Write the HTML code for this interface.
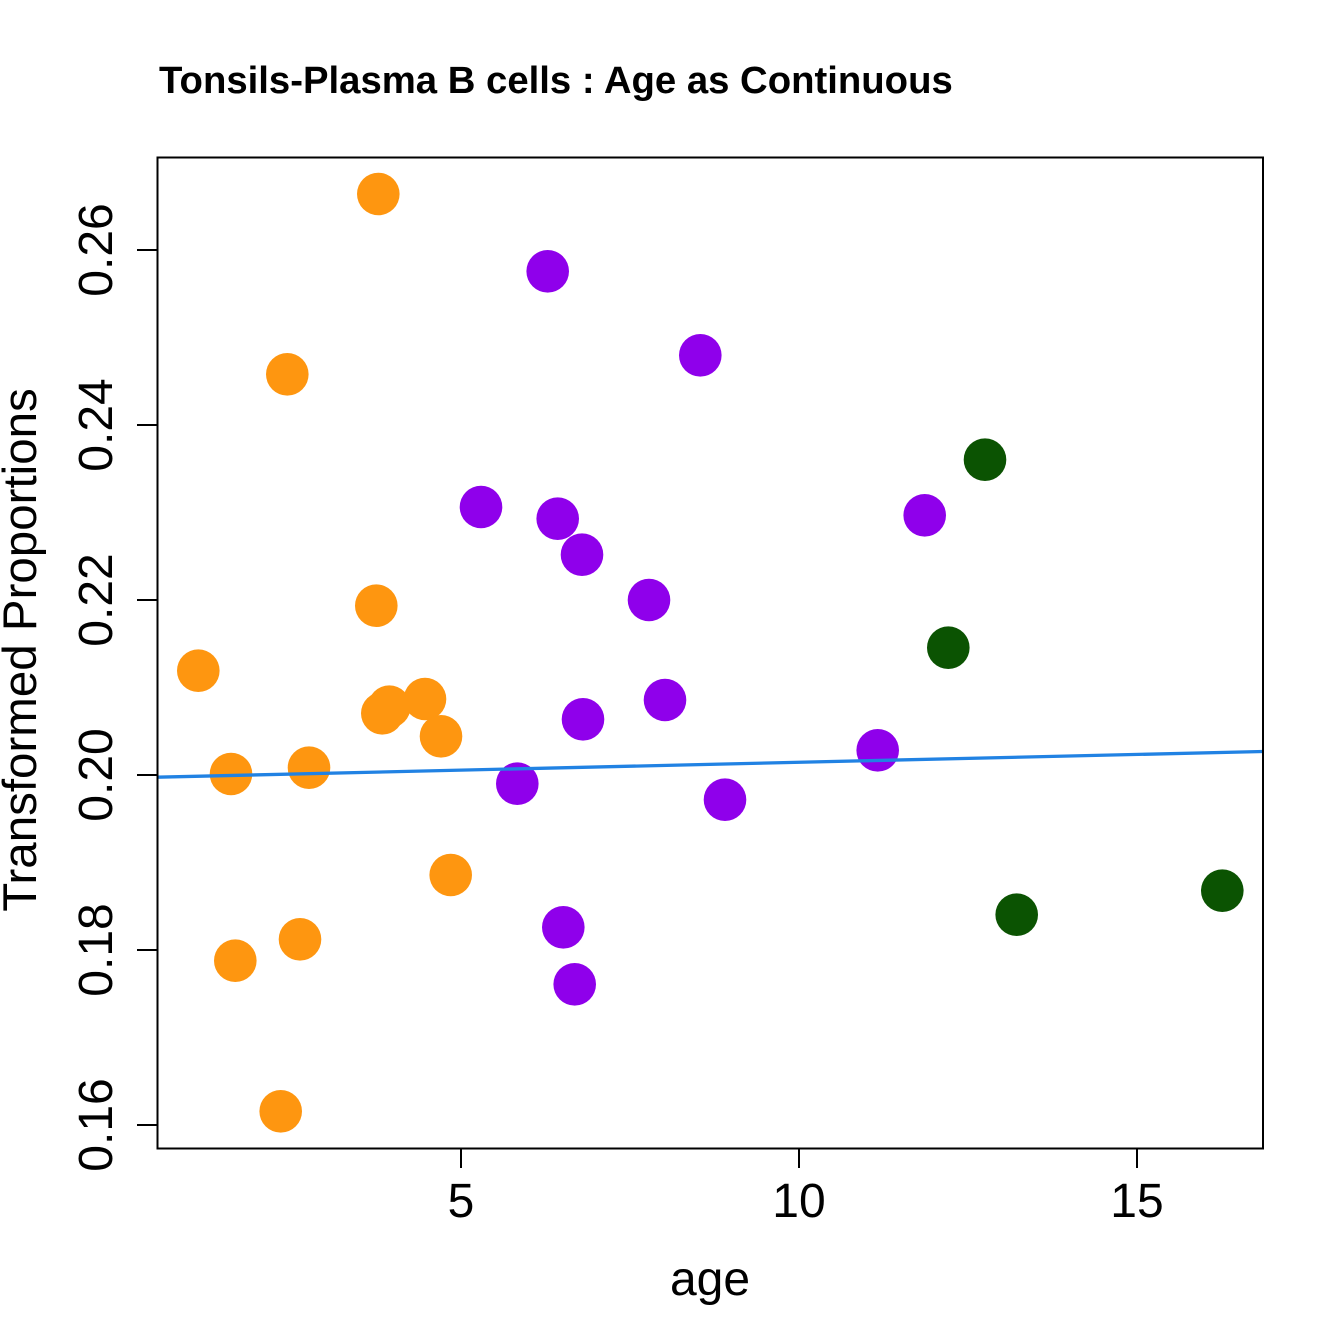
<!DOCTYPE html>
<html>
<head>
<meta charset="utf-8">
<style>
html,body{margin:0;padding:0;background:#fff;}
svg{display:block;}
text{font-family:"Liberation Sans",Arial,sans-serif;fill:#000;}
</style>
</head>
<body>
<svg width="1344" height="1344" viewBox="0 0 1344 1344" xmlns="http://www.w3.org/2000/svg">
<rect width="1344" height="1344" fill="#fff"/>
<text x="159" y="93" font-size="38.3" font-weight="bold">Tonsils-Plasma B cells : Age as Continuous</text>

<g fill="#FE9610">
<circle cx="378.3" cy="194" r="21.3"/>
<circle cx="287.3" cy="374.3" r="21.3"/>
<circle cx="376.3" cy="605.7" r="21.3"/>
<circle cx="198.3" cy="670.7" r="21.3"/>
<circle cx="382.3" cy="713.3" r="21.3"/>
<circle cx="389.3" cy="706.7" r="21.3"/>
<circle cx="425" cy="699" r="21.3"/>
<circle cx="441" cy="736.3" r="21.3"/>
<circle cx="231" cy="774" r="21.3"/>
<circle cx="309" cy="767.7" r="21.3"/>
<circle cx="450.7" cy="875" r="21.3"/>
<circle cx="235.3" cy="960.7" r="21.3"/>
<circle cx="300" cy="939.3" r="21.3"/>
<circle cx="280.7" cy="1111.3" r="21.3"/>
</g>
<g fill="#8F00EB">
<circle cx="547.7" cy="271.3" r="21.3"/>
<circle cx="700.3" cy="355.3" r="21.3"/>
<circle cx="481" cy="507" r="21.3"/>
<circle cx="557.7" cy="518.7" r="21.3"/>
<circle cx="582" cy="554.7" r="21.3"/>
<circle cx="649" cy="600" r="21.3"/>
<circle cx="665" cy="700" r="21.3"/>
<circle cx="583" cy="719.3" r="21.3"/>
<circle cx="517.3" cy="783.7" r="21.3"/>
<circle cx="725" cy="799.7" r="21.3"/>
<circle cx="877.7" cy="750.3" r="21.3"/>
<circle cx="924.7" cy="515.3" r="21.3"/>
<circle cx="563.3" cy="927.3" r="21.3"/>
<circle cx="574.7" cy="984.3" r="21.3"/>
</g>
<g fill="#0B5302">
<circle cx="985" cy="459.7" r="21.3"/>
<circle cx="948.3" cy="647.7" r="21.3"/>
<circle cx="1016.7" cy="914.7" r="21.3"/>
<circle cx="1222.3" cy="890.7" r="21.3"/>
</g>

<line x1="157" y1="777.2" x2="1263" y2="751.5" stroke="#2182E3" stroke-width="3.3"/>

<rect x="157.5" y="157.5" width="1105.5" height="991" fill="none" stroke="#000" stroke-width="2"/>

<!-- x ticks -->
<g stroke="#000" stroke-width="2">
<line x1="461" y1="1148" x2="461" y2="1168"/>
<line x1="799" y1="1148" x2="799" y2="1168"/>
<line x1="1137" y1="1148" x2="1137" y2="1168"/>
</g>
<g font-size="48" text-anchor="middle">
<text x="461" y="1217">5</text>
<text x="799" y="1217">10</text>
<text x="1137" y="1217">15</text>
</g>
<text x="710" y="1295" font-size="48" text-anchor="middle">age</text>

<!-- y ticks -->
<g stroke="#000" stroke-width="2">
<line x1="137" y1="1125" x2="157" y2="1125"/>
<line x1="137" y1="950" x2="157" y2="950"/>
<line x1="137" y1="775" x2="157" y2="775"/>
<line x1="137" y1="600" x2="157" y2="600"/>
<line x1="137" y1="425" x2="157" y2="425"/>
<line x1="137" y1="250" x2="157" y2="250"/>
</g>
<g font-size="48" text-anchor="middle">
<text transform="translate(112,1125) rotate(-90)">0.16</text>
<text transform="translate(112,950) rotate(-90)">0.18</text>
<text transform="translate(112,775) rotate(-90)">0.20</text>
<text transform="translate(112,600) rotate(-90)">0.22</text>
<text transform="translate(112,425) rotate(-90)">0.24</text>
<text transform="translate(112,250) rotate(-90)">0.26</text>
</g>
<text transform="translate(36,650) rotate(-90)" font-size="47.5" text-anchor="middle">Transformed Proportions</text>
</svg>
</body>
</html>
